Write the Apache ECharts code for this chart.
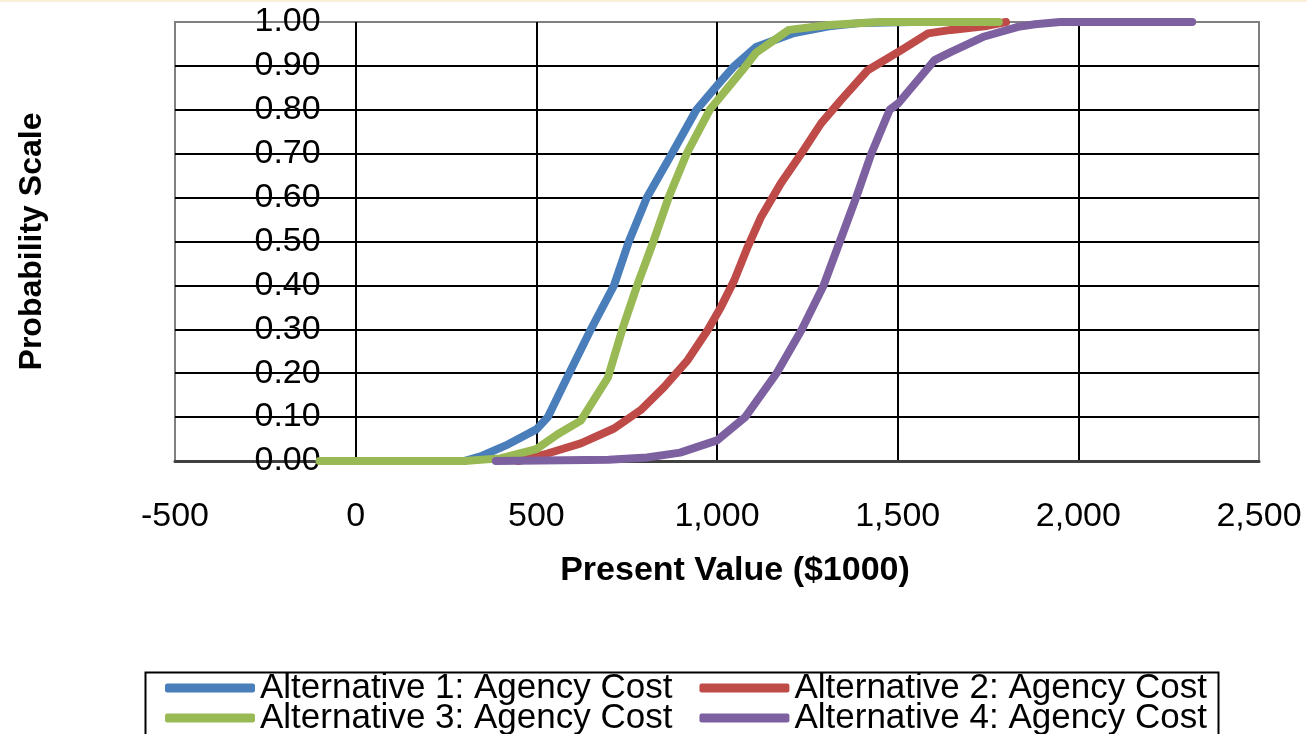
<!DOCTYPE html>
<html>
<head>
<meta charset="utf-8">
<script src="https://cdn.jsdelivr.net/npm/echarts@6/dist/echarts.min.js"></script>
<style>
html,body{margin:0;padding:0;background:#fff;}
#topstrip{position:absolute;left:0;top:0;width:1307px;height:2px;background:#FCEFD9;z-index:2;}
#chart{width:1307px;height:734px;}
</style>
</head>
<body>
<div id="topstrip"></div>
<div id="chart"></div>
<script>
// ---- data ----
const seriesNames = [
  'Alternative 1: Agency Cost',
  'Alternative 2: Agency Cost',
  'Alternative 3: Agency Cost',
  'Alternative 4: Agency Cost'
];
// Present value ($1000) and cumulative probability per alternative
const alt1X = [300, 350, 422, 500, 532, 591, 651, 715, 756, 806, 875, 943, 1000, 1048, 1108, 1213, 1310, 1400, 1540];
const alt1Y = [0.0, 0.012, 0.038, 0.072, 0.10, 0.20, 0.30, 0.40, 0.50, 0.60, 0.70, 0.80, 0.855, 0.90, 0.943, 0.975, 0.99, 0.998, 1.0];

const alt2X = [450, 531, 623, 715, 789, 854, 919, 974, 1011, 1048, 1085, 1122, 1177, 1233, 1288, 1343, 1417, 1510, 1584, 1648, 1740, 1800];
const alt2Y = [0.0, 0.017, 0.040, 0.074, 0.116, 0.169, 0.230, 0.298, 0.351, 0.412, 0.488, 0.556, 0.633, 0.700, 0.769, 0.822, 0.890, 0.936, 0.974, 0.982, 0.99, 1.0];

const alt3X = [-100, 300, 400, 500, 559, 623, 698, 738, 779, 824, 866, 916, 980, 1080, 1108, 1199, 1310, 1450, 1780];
const alt3Y = [0.0, 0.0, 0.006, 0.027, 0.061, 0.092, 0.19, 0.30, 0.40, 0.50, 0.60, 0.70, 0.80, 0.90, 0.93, 0.982, 0.993, 1.0, 1.0];

const alt4X = [388, 700, 806, 898, 1000, 1078, 1165, 1235, 1295, 1340, 1385, 1427, 1478, 1502, 1556, 1602, 1648, 1740, 1833, 1880, 1950, 2315];
const alt4Y = [0.0, 0.003, 0.008, 0.019, 0.047, 0.10, 0.20, 0.30, 0.40, 0.50, 0.60, 0.70, 0.80, 0.815, 0.868, 0.913, 0.932, 0.967, 0.989, 0.995, 1.0, 1.0];

const xTicks = { min: -500, max: 2500, step: 500 };
const yTicks = { min: 0, max: 1, step: 0.1 };

const xTitle = 'Present Value ($1000)';
const yTitle = 'Probability Scale';

// ---- chart ----
const colors = ['#4A7EBB', '#BE4B48', '#98B954', '#7D60A0'];
const FONT = '"Liberation Sans", Arial, sans-serif';
const zip = (xs, ys) => xs.map((x, i) => [x, ys[i]]);
const allData = [zip(alt1X, alt1Y), zip(alt2X, alt2Y), zip(alt3X, alt3Y), zip(alt4X, alt4Y)];

const chart = echarts.init(document.getElementById('chart'), null, { renderer: 'canvas' });

// plot box (layout only)
const gridBox = { left: 175, right: 48, top: 22, bottom: 273 };
const plotW = 1307 - gridBox.left - gridBox.right;
// the vertical axis crosses the horizontal axis at value 0
const yAxisShift = -plotW * (0 - xTicks.min) / (xTicks.max - xTicks.min);

const legendCommon = {
  orient: 'horizontal',
  left: 165,
  padding: 0,
  itemWidth: 90,
  itemHeight: 9,
  itemGap: 27,
  icon: 'roundRect',
  textStyle: { fontFamily: FONT, fontSize: 35, color: '#000', lineHeight: 36 },
  selectedMode: false
};

chart.setOption({
  animation: false,
  backgroundColor: '#fff',
  color: colors,
  grid: Object.assign({
    show: true, borderColor: '#808080', borderWidth: 2, backgroundColor: '#fff',
    containLabel: false, outerBoundsMode: 'none'
  }, gridBox),
  xAxis: {
    type: 'value',
    min: xTicks.min, max: xTicks.max, interval: xTicks.step,
    name: xTitle,
    nameLocation: 'middle',
    nameGap: 93,
    nameTextStyle: { fontFamily: FONT, fontSize: 34, fontWeight: 'bold', color: '#000', padding: [0, 0, 0, 36] },
    axisLine: { show: true, onZero: false, lineStyle: { color: '#404040', width: 3 } },
    axisTick: { show: false },
    axisLabel: {
      fontFamily: FONT, fontSize: 34, color: '#000', margin: 39,
      formatter: v => v.toLocaleString('en-US')
    },
    splitLine: { show: true, showMinLine: false, showMaxLine: false, lineStyle: { color: '#000', width: 2 } }
  },
  yAxis: {
    type: 'value',
    min: yTicks.min, max: yTicks.max, interval: yTicks.step,
    position: 'left',
    offset: yAxisShift,
    name: yTitle,
    nameLocation: 'middle',
    nameRotate: 90,
    nameGap: 307,
    nameTextStyle: { fontFamily: FONT, fontSize: 32, fontWeight: 'bold', color: '#000' },
    axisLine: { show: false, onZero: false },
    axisTick: { show: false },
    axisLabel: {
      fontFamily: FONT, fontSize: 34, color: '#000', margin: 35,
      formatter: v => v.toFixed(2)
    },
    splitLine: { show: true, showMinLine: false, showMaxLine: false, lineStyle: { color: '#000', width: 2 } }
  },
  legend: [
    Object.assign({ top: 670, data: [seriesNames[0], seriesNames[1]] }, legendCommon),
    Object.assign({ top: 700, data: [seriesNames[2], seriesNames[3]] }, legendCommon)
  ],
  graphic: [{
    type: 'rect',
    left: 143, top: 670,
    shape: { width: 1073, height: 100 },
    style: { fill: 'none', stroke: '#000', lineWidth: 2 },
    silent: true
  }],
  series: seriesNames.map((name, i) => ({
    name,
    type: 'line',
    data: allData[i],
    showSymbol: false,
    smooth: false,
    lineStyle: { width: 8, color: colors[i], cap: 'round', join: 'round' },
    itemStyle: { color: colors[i] },
    z: 3 + i
  }))
});
</script>
</body>
</html>
